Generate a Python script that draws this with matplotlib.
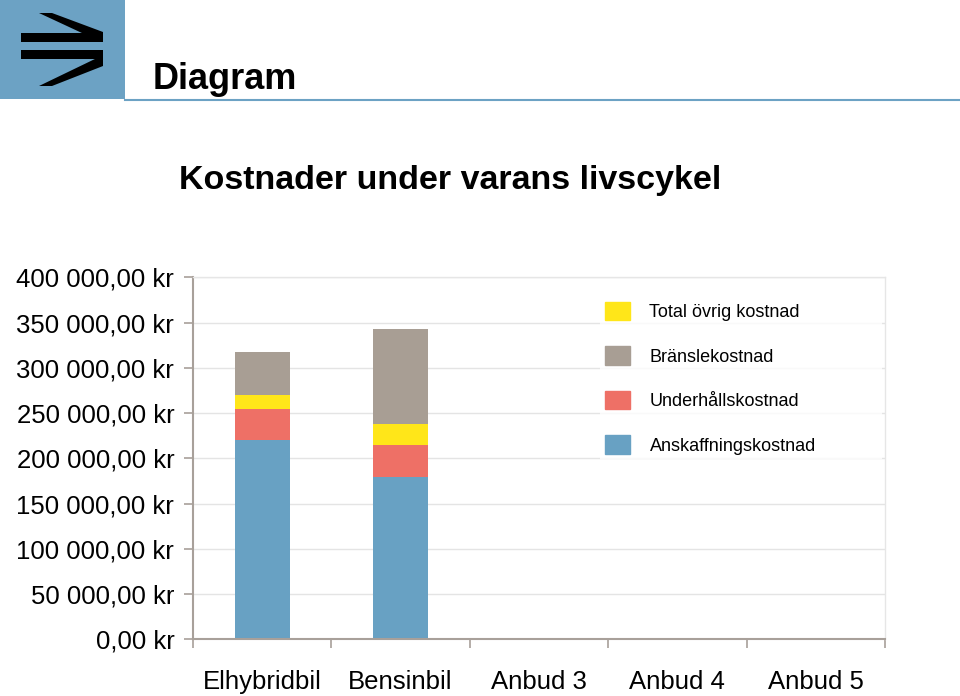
import matplotlib.pyplot as plt
from matplotlib.patches import Patch, Polygon, Rectangle
from matplotlib.ticker import FixedLocator, FuncFormatter

plt.rcParams['font.family'] = ['Liberation Sans', 'DejaVu Sans']

categories = ['Elhybridbil', 'Bensinbil', 'Anbud 3', 'Anbud 4', 'Anbud 5']
anskaffning = [220400, 179500, 0, 0, 0]
underhall = [34300, 35200, 0, 0, 0]
ovrig = [15200, 22900, 0, 0, 0]
bransle = [47600, 104800, 0, 0, 0]
yticks = [0, 50000, 100000, 150000, 200000, 250000, 300000, 350000, 400000]

blue = '#68a1c3'
red = '#ee7066'
yellow = '#ffe619'
grey = '#a89e94'
axis_col = '#a8a09a'

fig = plt.figure(figsize=(9.6, 6.96), dpi=100)

# header decoration in pixel coordinates
deco = fig.add_axes([0, 0, 1, 1])
deco.set_xlim(0, 960)
deco.set_ylim(696, 0)
deco.axis('off')
deco.add_patch(Rectangle((0, 0), 125, 99, color='#6ca2c4', lw=0))
deco.plot([125, 960], [99.5, 99.5], color='#6ca2c4', lw=1.5)
for shape in [
    [(21, 33), (103, 33), (103, 42), (21, 42)],
    [(21, 50), (103, 50), (103, 59), (21, 59)],
    [(39, 13), (52, 13), (103, 32), (103, 40), (97, 40)],
    [(39, 86), (52, 86), (103, 66), (103, 58), (97, 58)],
]:
    deco.add_patch(Polygon(shape, closed=True, color='black', lw=0))
deco.text(153, 89, 'Diagram', fontsize=26, fontweight='bold', va='baseline')
deco.text(450, 189, 'Kostnader under varans livscykel', fontsize=24.5,
          fontweight='bold', ha='center', va='baseline')

ax = fig.add_axes([193 / 960, 56.7 / 696, 692 / 960, 362 / 696])
x = list(range(len(categories)))
w = 0.4
ax.bar(x, anskaffning, w, color=blue, zorder=2)
bottom = list(anskaffning)
ax.bar(x, underhall, w, bottom=bottom, color=red, zorder=2)
bottom = [a + b for a, b in zip(bottom, underhall)]
ax.bar(x, ovrig, w, bottom=bottom, color=yellow, zorder=2)
bottom = [a + b for a, b in zip(bottom, ovrig)]
ax.bar(x, bransle, w, bottom=bottom, color=grey, zorder=2)

ax.set_xlim(-0.5, len(categories) - 0.5)
ax.set_ylim(0, 400000)
ax.set_yticks(yticks)
ax.yaxis.set_major_formatter(FuncFormatter(
    lambda v, p: f"{int(v):,}".replace(',', ' ') + ",00 kr"))
ax.set_xticks(x)
ax.set_xticklabels(categories)
ax.xaxis.set_minor_locator(FixedLocator([i - 0.5 for i in range(len(categories) + 1)]))

ax.tick_params(axis='y', labelsize=18.5, length=6.5, width=1.2, color=axis_col, pad=7)
ax.tick_params(axis='x', which='major', labelsize=18.5, length=0, pad=22)
ax.tick_params(axis='x', which='minor', length=6.5, width=1.2, color=axis_col)

ax.yaxis.grid(True, color='#e4e4e4', lw=1)
ax.set_axisbelow(True)
for s in ['left', 'bottom']:
    ax.spines[s].set_color(axis_col)
    ax.spines[s].set_linewidth(1.5)
for s in ['top', 'right']:
    ax.spines[s].set_color('#e6e6e6')
    ax.spines[s].set_linewidth(1)

handles = [Patch(color=yellow), Patch(color=grey), Patch(color=red), Patch(color=blue)]
labels = ['Total övrig kostnad', 'Bränslekostnad', 'Underhållskostnad', 'Anskaffningskostnad']
leg = ax.legend(handles, labels, loc='upper left', mode='expand',
                bbox_to_anchor=(600 / 960, (696 - 459) / 696, 282 / 960, 162 / 696),
                bbox_transform=fig.transFigure, fontsize=13, frameon=True,
                fancybox=False, borderpad=0.25, handlelength=1.39, handleheight=1.22,
                labelspacing=1.39, handletextpad=1.1, borderaxespad=0)
leg.get_frame().set_facecolor('white')
leg.get_frame().set_edgecolor('none')

fig.savefig('out.png', dpi=100)
